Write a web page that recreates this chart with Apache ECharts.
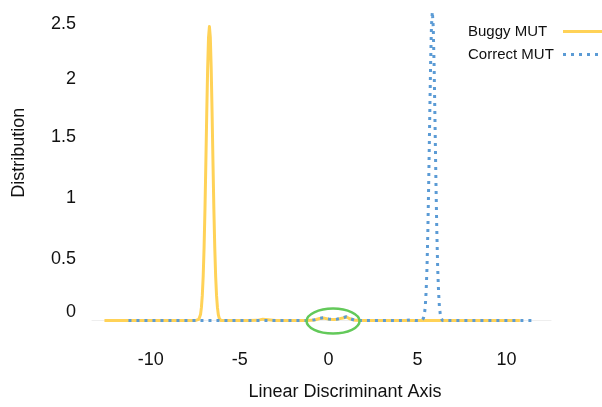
<!DOCTYPE html>
<html>
<head>
<meta charset="utf-8">
<script src="https://cdn.jsdelivr.net/npm/echarts@6/dist/echarts.min.js"></script>
<style>
  html, body { margin: 0; padding: 0; background: #fff; }
  #chart { width: 602px; height: 407px; }
</style>
</head>
<body>
<div id="chart"></div>
<script>
  // values
  const xTicks = [-10, -5, 0, 5, 10]
  const yTickPos = [0.075, 0.51, 1.02, 1.53, 2.01, 2.475]
  const yTickText = ['0', '0.5', '1', '1.5', '2', '2.5']

  const buggyX = [-12.6, -10, -8, -7.5, -7.3, -7.25, -7.2, -7.15, -7.1, -7.05, -7.0, -6.95, -6.9, -6.85, -6.8, -6.75, -6.7,
    -6.65, -6.6, -6.55, -6.5, -6.45, -6.4, -6.35, -6.3, -6.25, -6.2, -6.15, -6.1, -6.05, -6.0, -5.5, -4.5, -4.0, -3.7, -3.4,
    -3.0, -2.0, -1.2, -0.8, -0.5, -0.3, 0, 0.3, 0.5, 0.8, 1.0, 1.2, 1.5, 1.8, 3, 5, 7, 9, 10.75]
  const buggyY = [0, 0, 0, 0, 0.01, 0.02, 0.05, 0.11, 0.21, 0.37, 0.61, 0.93, 1.32, 1.73, 2.1, 2.36, 2.45,
    2.36, 2.1, 1.73, 1.32, 0.93, 0.61, 0.37, 0.21, 0.11, 0.05, 0.02, 0.01, 0, 0, 0, 0, 0.002, 0.012, 0.008,
    0.001, 0, 0, 0.005, 0.018, 0.022, 0.012, 0.01, 0.012, 0.022, 0.03, 0.015, 0.002, 0, 0, 0, 0, 0, 0]

  const correctX = [-11.25, -8, -5, -2, -1.2, -0.8, -0.5, -0.3, 0, 0.3, 0.5, 0.8, 1.0, 1.2, 1.5, 1.8, 3, 4.3, 4.6, 4.9, 5.2,
    5.33, 5.38, 5.43, 5.48, 5.53, 5.58, 5.63, 5.68, 5.73, 5.78, 5.83, 5.88, 5.93, 5.98, 6.03, 6.08, 6.13, 6.18, 6.23, 6.28,
    6.33, 6.4, 8, 10, 11.55]
  const correctY = [0, 0, 0, 0, 0, 0.006, 0.02, 0.024, 0.014, 0.01, 0.013, 0.024, 0.032, 0.016, 0.002, 0, 0, 0, 0.006, 0, 0,
    0.02, 0.05, 0.11, 0.24, 0.44, 0.76, 1.18, 1.66, 2.12, 2.45, 2.575, 2.45, 2.12, 1.66, 1.18, 0.76, 0.44, 0.24, 0.11, 0.05,
    0.02, 0, 0, 0, 0]

  const font = '"Liberation Sans", Arial, sans-serif'

  function pairs(xs, ys) {
    return xs.map((x, i) => [x, ys[i]])
  }

  const chart = echarts.init(document.getElementById('chart'))
  const options = {
    animation: false,
    grid: {
      left: 92,
      right: 51,
      top: 8.6,
      bottom: 72,
      containLabel: false,
      outerBoundsMode: 'none'
    },
    legend: {
      orient: 'vertical',
      left: 463,
      top: 19,
      align: 'right',
      itemWidth: 45,
      itemHeight: 14,
      itemGap: 8,
      itemStyle: { opacity: 0 },
      lineStyle: { width: 3 },
      formatter: '{t|{name}}',
      textStyle: {
        fontFamily: font,
        fontSize: 15,
        color: '#111',
        rich: { t: { width: 90, align: 'left', fontFamily: font, fontSize: 15, color: '#111' } }
      },
      data: ['Buggy MUT', 'Correct MUT']
    },
    xAxis: {
      type: 'value',
      min: -13.3,
      max: 12.5,
      name: 'Linear Discriminant Axis',
      nameLocation: 'middle',
      nameGap: 48,
      nameTextStyle: { fontFamily: font, fontSize: 18, color: '#111', padding: [0, 0, 0, 47] },
      axisLine: { show: true, lineStyle: { color: '#eeeeee', width: 1 } },
      axisTick: { show: false },
      splitLine: { show: false },
      axisLabel: {
        customValues: xTicks,
        margin: 16,
        fontFamily: font,
        fontSize: 18,
        color: '#111'
      }
    },
    yAxis: {
      type: 'value',
      min: -0.12,
      max: 2.6,
      name: 'Distribution',
      nameLocation: 'middle',
      nameRotate: 90,
      nameGap: 64,
      nameTextStyle: { fontFamily: font, fontSize: 18, color: '#111', padding: [0, 0, 0, 38] },
      axisLine: { show: false },
      axisTick: { show: false },
      splitLine: { show: false },
      axisLabel: {
        customValues: yTickPos,
        margin: 16,
        fontFamily: font,
        fontSize: 18,
        color: '#111',
        formatter: function (v) {
          let best = 0
          yTickPos.forEach((p, i) => { if (Math.abs(p - v) < Math.abs(yTickPos[best] - v)) best = i })
          return yTickText[best]
        }
      }
    },
    series: [
      {
        name: 'Buggy MUT',
        type: 'line',
        symbol: 'none',
        color: '#ffd257',
        lineStyle: { width: 3, color: '#ffd257', join: 'round' },
        data: pairs(buggyX, buggyY)
      },
      {
        name: 'Correct MUT',
        type: 'line',
        symbol: 'none',
        color: '#5b9bd5',
        lineStyle: { width: 3, color: '#5b9bd5', type: [3, 5], cap: 'butt' },
        data: pairs(correctX, correctY)
      }
    ]
  }
  chart.setOption(options, true)

  // green ring drawn around the small bumps near zero
  const c = chart.convertToPixel({ gridIndex: 0 }, [0.25, 0])
  chart.setOption({
    graphic: [{
      type: 'ellipse',
      shape: { cx: c[0], cy: c[1] + 0.5, rx: 26.5, ry: 12.5 },
      style: { fill: 'none', stroke: '#63c95a', lineWidth: 2.5 },
      z: 100
    }]
  })
</script>
</body>
</html>
